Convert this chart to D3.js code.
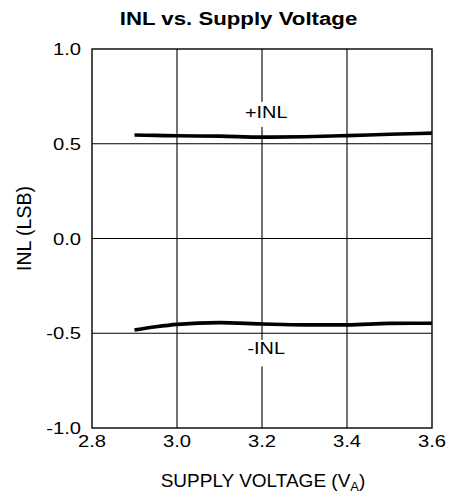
<!DOCTYPE html>
<html>
<head>
<meta charset="utf-8">
<script src="https://cdn.jsdelivr.net/npm/d3@7"></script>
<style>
    body { margin: 0; background: #fff; }
    text { font-family: "Liberation Sans", Arial, sans-serif; fill: #000; }
</style>
</head>
<body>
<div id="chart"></div>
<script>
var voltage = [2.9, 2.95, 3.0, 3.1, 3.2, 3.3, 3.4, 3.5, 3.6];
var inlPos = [0.546, 0.544, 0.542, 0.540, 0.535, 0.537, 0.543, 0.550, 0.556];
var inlNeg = [-0.483, -0.466, -0.453, -0.444, -0.451, -0.456, -0.456, -0.448, -0.447];
var xTicks = [2.8, 3.0, 3.2, 3.4, 3.6];
var yTicks = [-1.0, -0.5, 0.0, 0.5, 1.0];

var margin = {top: 49, right: 24, bottom: 71, left: 92},
    width = 456 - margin.left - margin.right,
    height = 499 - margin.top - margin.bottom;

var svg = d3.select("#chart").append("svg")
    .attr("width", 456)
    .attr("height", 499);

var chart = svg.append("g")
    .attr("transform", "translate(" + margin.left + "," + margin.top + ")");

var x = d3.scaleLinear().domain([2.8, 3.6]).range([0, width]);
var y = d3.scaleLinear().domain([-1, 1]).range([height, 0]);

// text in the reference is drawn horizontally stretched
function wideText(parent, px, py, str, size, sx, anchor, weight) {
    return parent.append("text")
        .attr("transform", "translate(" + px + "," + py + ") scale(" + sx + ",1)")
        .attr("text-anchor", anchor)
        .style("font-size", size + "px")
        .style("font-weight", weight || "normal")
        .text(str);
}

// grid
chart.selectAll(".vgrid")
    .data(xTicks.slice(1, -1))
    .enter().append("line")
    .attr("class", "vgrid")
    .attr("x1", function (d) { return x(d); })
    .attr("x2", function (d) { return x(d); })
    .attr("y1", 0)
    .attr("y2", height)
    .style("stroke", "#000")
    .style("stroke-width", 1.1);

chart.selectAll(".hgrid")
    .data(yTicks.slice(1, -1))
    .enter().append("line")
    .attr("class", "hgrid")
    .attr("x1", 0)
    .attr("x2", width)
    .attr("y1", function (d) { return y(d); })
    .attr("y2", function (d) { return y(d); })
    .style("stroke", "#000")
    .style("stroke-width", 1.1);

chart.append("rect")
    .attr("width", width)
    .attr("height", height)
    .style("fill", "none")
    .style("stroke", "#000")
    .style("stroke-width", 1.4);

// tick labels
xTicks.forEach(function (d) {
    wideText(chart, x(d), height + 19, d.toFixed(1), 16.3, 1.24, "middle");
});
yTicks.forEach(function (d) {
    wideText(chart, -11, y(d) + 6, d.toFixed(1), 16.3, 1.24, "end");
});

// curves
var line = d3.line()
    .curve(d3.curveMonotoneX)
    .x(function (d) { return x(d[0]); })
    .y(function (d) { return y(d[1]); });

[inlPos, inlNeg].forEach(function (vals) {
    chart.append("path")
        .attr("class", "line")
        .attr("d", line(d3.zip(voltage, vals)))
        .style("fill", "none")
        .style("stroke", "#000")
        .style("stroke-width", 3.6);
});

// curve labels with white knock-out behind
var labels = [
    {text: "+INL", x: 3.21, y: 0.637, top: 0.721, bottom: 0.589},
    {text: "-INL", x: 3.21, y: -0.61, top: -0.535, bottom: -0.675}
];
labels.forEach(function (l) {
    chart.append("rect")
        .attr("x", x(l.x) - 22)
        .attr("y", y(l.top))
        .attr("width", 44)
        .attr("height", y(l.bottom) - y(l.top))
        .style("fill", "#fff");
    wideText(chart, x(l.x), y(l.y), l.text, 16.3, 1.22, "middle");
});

// titles
wideText(svg, 238.5, 25, "INL vs. Supply Voltage", 17.5, 1.27, "middle", "bold");

svg.append("text")
    .attr("transform", "translate(31,228.5) rotate(-90)")
    .attr("text-anchor", "middle")
    .style("font-size", "19.5px")
    .text("INL (LSB)");

var xt = svg.append("text")
    .attr("x", 263)
    .attr("y", 487)
    .attr("text-anchor", "middle")
    .style("font-size", "19px");
xt.append("tspan").text("SUPPLY VOLTAGE (V");
xt.append("tspan").attr("dy", 4).style("font-size", "13px").text("A");
xt.append("tspan").attr("dy", -4).text(")");
</script>
</body>
</html>
